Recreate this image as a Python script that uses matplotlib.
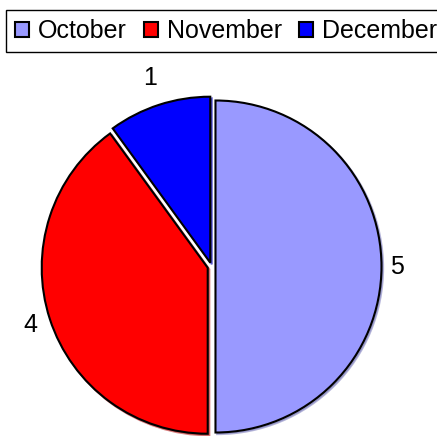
import numpy as np
import matplotlib.pyplot as plt

plt.rcParams['font.family'] = ['Liberation Sans', 'DejaVu Sans']

# dane
months = ['October', 'November', 'December']
counts = [5, 4, 1]
colors = ['#9999FF', '#FF0000', '#0000FF']

W, H = 437, 436
cx, cy, r = 211.5, 266.5, 166

fig = plt.figure(figsize=(W / 100, H / 100), dpi=100)
ax = fig.add_axes([0, 0, 1, 1])

wedges, texts = ax.pie(
    counts, colors=colors, labels=[str(c) for c in counts],
    startangle=90, counterclock=False, explode=[0.024] * 3,
    textprops={'fontsize': 18},
    wedgeprops={'edgecolor': 'black', 'linewidth': 1.5},
    shadow={'ox': 0.007, 'oy': -0.007, 'shade': 0.3},
)

# etykiety: odsunięte dalej u góry/dołu
for w, t in zip(wedges, texts):
    ang = np.deg2rad((w.theta1 + w.theta2) / 2)
    d = 1.12 + 0.08 * abs(np.sin(ang))
    t.set_position((d * np.cos(ang), d * np.sin(ang)))
    t.set_ha('center')
    t.set_va('center')

ax.set_aspect('auto')
ax.set_xlim(-cx / r, (W - cx) / r)
ax.set_ylim(-(H - cy) / r, cy / r)
ax.axis('off')

fig.legend(wedges, months, loc='center', bbox_to_anchor=(226 / W, 1 - 31 / H),
           ncol=3, fontsize=18, fancybox=False, edgecolor='black',
           framealpha=1, handlelength=0.55, handleheight=0.55,
           handletextpad=0.35, columnspacing=0.7, borderpad=0.35,
           borderaxespad=0)

fig.savefig('out.png', dpi=100)
